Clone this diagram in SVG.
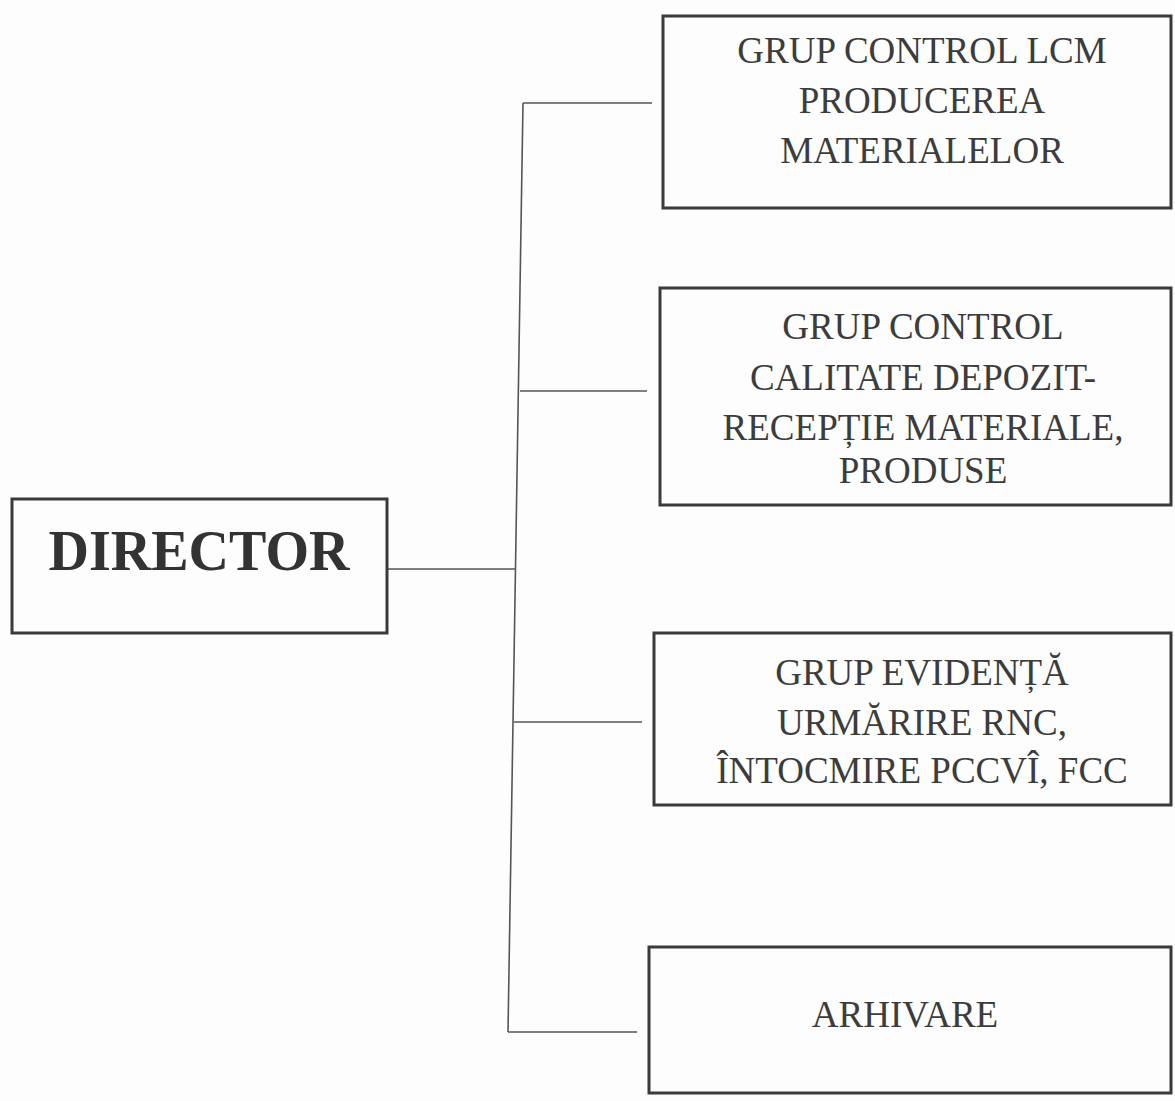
<svg xmlns="http://www.w3.org/2000/svg" width="1175" height="1101" viewBox="0 0 1175 1101">
  <style>
    .box { fill: none; stroke: #3a3a3a; stroke-width: 3; }
    .conn { fill: none; stroke: #555; stroke-width: 1.6; }
    .lbl { font-family: "Liberation Serif", "Times New Roman", serif; font-size: 37px; fill: #3c3c3c; text-anchor: middle; }
    .dir { font-family: "Liberation Serif", "Times New Roman", serif; font-size: 56px; font-weight: bold; fill: #333; text-anchor: middle; }
  </style>
  <rect x="0" y="0" width="1175" height="1101" fill="#fdfdfd"/>
  <g id="connectors">
    <line class="conn" x1="387" y1="569" x2="516" y2="569"/>
    <line class="conn" x1="523" y1="103" x2="508" y2="1032"/>
    <line class="conn" x1="523" y1="103" x2="652" y2="103"/>
    <line class="conn" x1="520" y1="391" x2="647" y2="391"/>
    <line class="conn" x1="514" y1="722" x2="642" y2="722"/>
    <line class="conn" x1="508" y1="1032" x2="637" y2="1032"/>
  </g>
  <g id="director">
    <rect class="box" x="12" y="499" width="375" height="134"/>
    <text class="dir" x="199" y="570">DIRECTOR</text>
  </g>
  <g id="grup-control-lcm">
    <rect class="box" x="663" y="16" width="508" height="192"/>
    <text class="lbl" x="922" y="63">GRUP CONTROL LCM</text>
    <text class="lbl" x="922" y="113">PRODUCEREA</text>
    <text class="lbl" x="922" y="163">MATERIALELOR</text>
  </g>
  <g id="grup-control-calitate">
    <rect class="box" x="660" y="288" width="511" height="217"/>
    <text class="lbl" x="923" y="339">GRUP CONTROL</text>
    <text class="lbl" x="923" y="390">CALITATE DEPOZIT-</text>
    <text class="lbl" x="923" y="440">RECEPȚIE MATERIALE,</text>
    <text class="lbl" x="923" y="483">PRODUSE</text>
  </g>
  <g id="grup-evidenta">
    <rect class="box" x="654" y="633" width="517" height="172"/>
    <text class="lbl" x="922" y="685">GRUP EVIDENȚĂ</text>
    <text class="lbl" x="922" y="735">URMĂRIRE RNC,</text>
    <text class="lbl" x="922" y="783">ÎNTOCMIRE PCCVÎ, FCC</text>
  </g>
  <g id="arhivare">
    <rect class="box" x="649" y="947" width="522" height="146"/>
    <text class="lbl" x="905" y="1027">ARHIVARE</text>
  </g>
</svg>
